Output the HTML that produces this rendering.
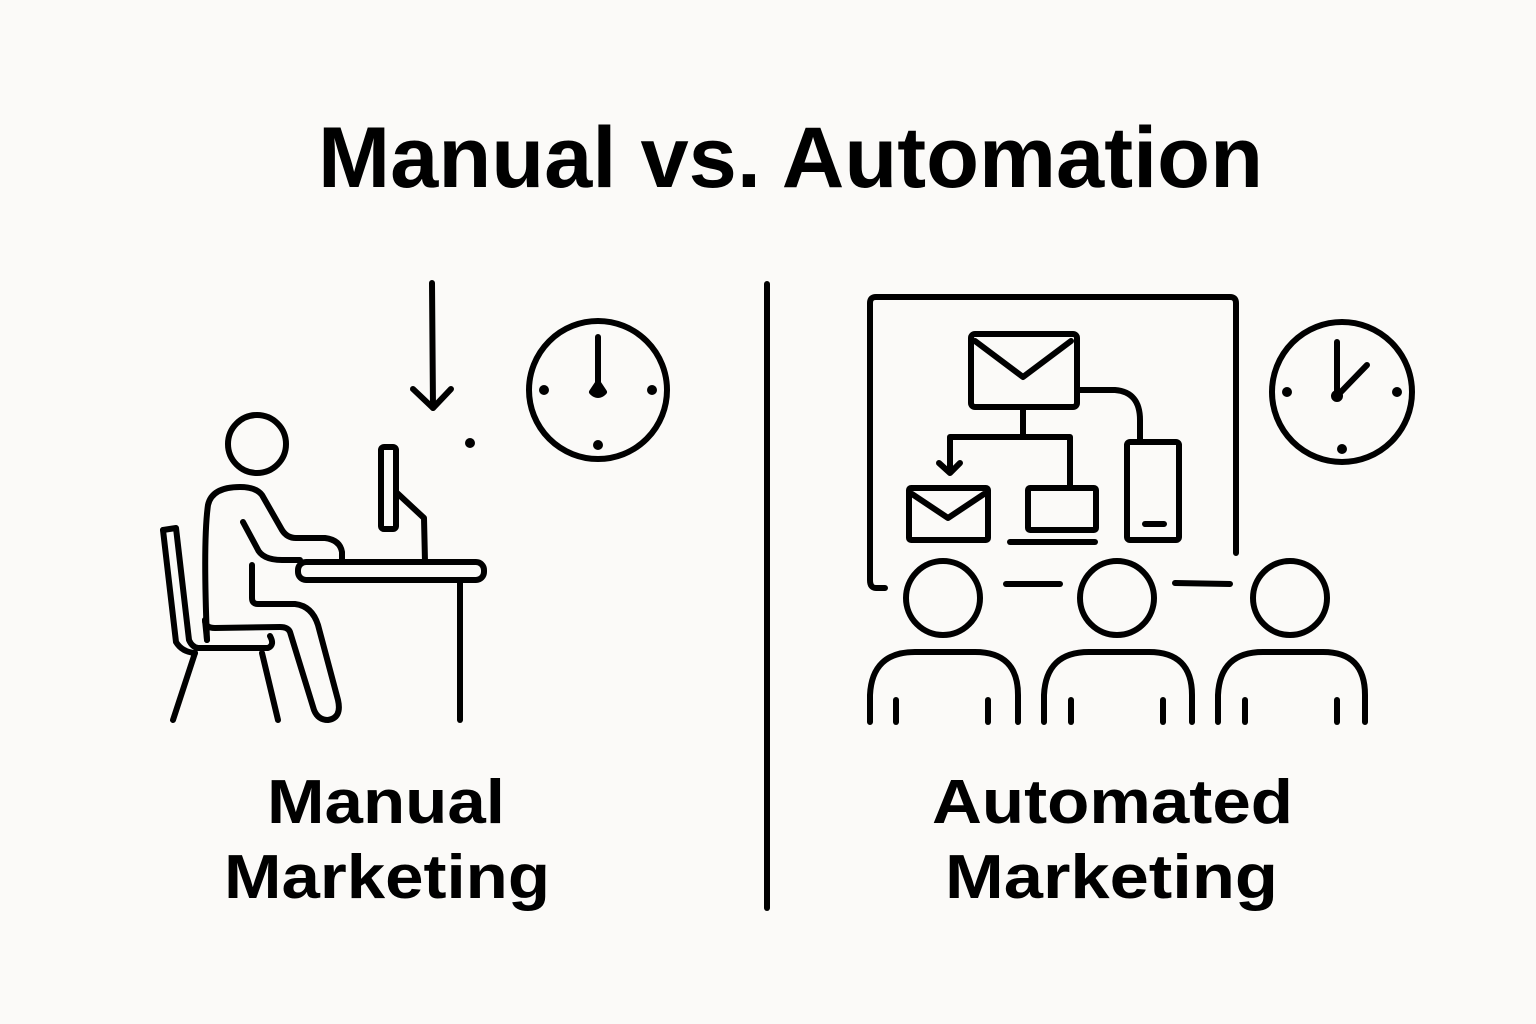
<!DOCTYPE html>
<html><head><meta charset="utf-8"><style>html,body{margin:0;padding:0;background:#fbfaf8}svg{display:block}</style></head>
<body>
<svg width="1536" height="1024" viewBox="0 0 1536 1024" xmlns="http://www.w3.org/2000/svg">
<rect width="1536" height="1024" fill="#fbfaf8"/>
<g font-family="Liberation Sans, Arial, sans-serif" font-weight="bold" fill="#000">
<text x="318" y="187" font-size="86" textLength="945" lengthAdjust="spacingAndGlyphs">Manual vs. Automation</text>
<text x="267" y="823" font-size="62" textLength="238" lengthAdjust="spacingAndGlyphs">Manual</text>
<text x="224" y="898" font-size="62" textLength="326" lengthAdjust="spacingAndGlyphs">Marketing</text>
<text x="932" y="823" font-size="62" textLength="361" lengthAdjust="spacingAndGlyphs">Automated</text>
<text x="945" y="898" font-size="62" textLength="333" lengthAdjust="spacingAndGlyphs">Marketing</text>
</g>
<g fill="none" stroke="#000" stroke-width="6" stroke-linecap="round" stroke-linejoin="round">
<line x1="767" y1="284" x2="767" y2="908"/>
<line x1="432" y1="283" x2="433" y2="408"/>
<polyline points="413,389 433,408 451,389"/>
<circle cx="257" cy="444" r="29"/>
<rect x="381" y="447" width="15" height="82" rx="3"/>
<polyline points="396,492 424,518 425,562"/>
<rect x="298" y="562" width="186" height="18" rx="8"/>
<line x1="460" y1="580" x2="460" y2="720"/>
<path d="M163,530 L176,528 L189,640 Q192,647 198,648 L268,648 Q275,645 270,636"/>
<path d="M163,530 L176,642 Q182,652 195,653"/>
<line x1="195" y1="653" x2="173" y2="720"/>
<line x1="262" y1="653" x2="278" y2="720"/>
<path d="M207,640 Q203,540 208,505 Q212,487 240,487 Q256,487 262,495 L282,530 Q287,538 296,538 L325,538 Q340,540 342,552 L342,560"/>
<path d="M243,522 L257,548 Q262,560 282,560 L300,560"/>
<path d="M252,565 L252,598 Q252,604 258,604 L295,604 Q312,606 318,625 L338,700 Q342,718 328,720 Q318,720 314,710 L290,632 Q288,627 280,627 L215,628 Q205,628 205,620"/>
<line x1="207" y1="640" x2="205" y2="620"/>
<circle cx="470" cy="443" r="2" fill="#000"/>
<circle cx="598" cy="390" r="69"/>
<line x1="598" y1="337" x2="598" y2="385"/>
<path d="M592,392 L598,383 L604,392 Q598,398 592,392 Z" fill="#000"/>
<circle cx="544" cy="390" r="2" fill="#000"/>
<circle cx="652" cy="390" r="2" fill="#000"/>
<circle cx="598" cy="445" r="2" fill="#000"/>
<path d="M885,588 L876,588 Q870,588 870,580 L870,303 Q870,297 876,297 L1230,297 Q1236,297 1236,303 L1236,553"/>
<rect x="971" y="334" width="106" height="73" rx="4"/>
<polyline points="975,341 1023,377 1071,341"/>
<line x1="1023" y1="407" x2="1023" y2="437"/>
<polyline points="950,470 950,437 1070,437 1070,487"/>
<polyline points="939,463 950,473 960,463"/>
<path d="M1078,390 L1115,390 Q1140,392 1140,420 L1140,442"/>
<rect x="1127" y="442" width="52" height="98" rx="3"/>
<line x1="1145" y1="524" x2="1164" y2="524"/>
<rect x="909" y="488" width="79" height="52" rx="2"/>
<polyline points="912,494 948,518 984,494"/>
<rect x="1028" y="488" width="68" height="42" rx="2"/>
<line x1="1010" y1="542" x2="1095" y2="542"/>
<line x1="1006" y1="584" x2="1060" y2="584"/>
<line x1="1175" y1="583" x2="1230" y2="584"/>
<circle cx="943" cy="598" r="37"/>
<circle cx="1117" cy="598" r="37"/>
<circle cx="1290" cy="598" r="37"/>
<path d="M870,722 L870,695 Q872,652 915,652 L975,652 Q1018,652 1018,695 L1018,722"/>
<line x1="896" y1="700" x2="896" y2="722"/><line x1="988" y1="700" x2="988" y2="722"/>
<path d="M1044,722 L1044,695 Q1046,652 1089,652 L1149,652 Q1192,652 1192,695 L1192,722"/>
<line x1="1071" y1="700" x2="1071" y2="722"/><line x1="1163" y1="700" x2="1163" y2="722"/>
<path d="M1218,722 L1218,695 Q1220,652 1263,652 L1323,652 Q1365,652 1365,695 L1365,722"/>
<line x1="1245" y1="700" x2="1245" y2="722"/><line x1="1337" y1="700" x2="1337" y2="722"/>
<circle cx="1342" cy="392" r="70"/>
<line x1="1337" y1="342" x2="1337" y2="396"/>
<line x1="1337" y1="396" x2="1367" y2="365"/>
<circle cx="1337" cy="396" r="3" fill="#000"/>
<circle cx="1287" cy="392" r="2" fill="#000"/>
<circle cx="1397" cy="392" r="2" fill="#000"/>
<circle cx="1342" cy="449" r="2" fill="#000"/>
</g>
</svg>
</body></html>
